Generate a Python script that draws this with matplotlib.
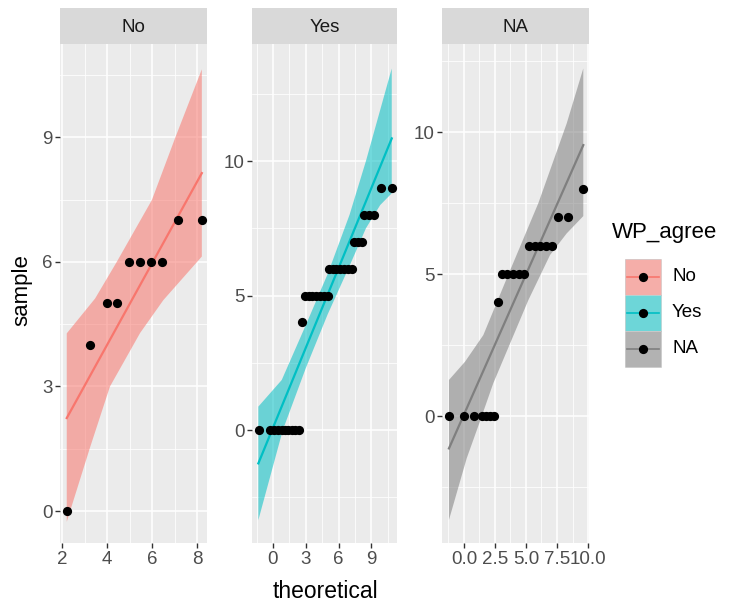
import matplotlib
matplotlib.use("Agg")
import matplotlib.pyplot as plt
from matplotlib.patches import Rectangle
import numpy as np

plt.rcParams['font.family'] = ['Liberation Sans', 'DejaVu Sans']

groups = ['No', 'Yes', 'NA']
colors = ['#F8766D', '#00BFC4', '#7F7F7F']

# points (theoretical, sample)
no_x = [2.21, 3.24, 3.99, 4.46, 4.98, 5.47, 5.96, 6.43, 7.14, 8.21]
no_y = [0, 4, 5, 5, 6, 6, 6, 6, 7, 7]
yes_x = [-1.28, -0.27, 0.1, 0.45, 0.8, 1.1, 1.4, 1.7, 2.05, 2.4,
         2.62,
         2.9, 3.25, 3.6, 3.95, 4.3, 4.65, 5.0,
         5.1, 5.45, 5.8, 6.15, 6.5, 6.85, 7.23,
         7.4, 7.75, 8.1,
         8.33, 8.75, 9.21,
         9.88, 10.86]
yes_y = [0, 0, 0, 0, 0, 0, 0, 0, 0, 0,
         4,
         5, 5, 5, 5, 5, 5, 5,
         6, 6, 6, 6, 6, 6, 6,
         7, 7, 7,
         8, 8, 8,
         9, 9]
na_x = [-1.21, 0.03, 0.83, 1.42, 1.75, 2.1, 2.44,
        2.77,
        3.04, 3.5, 3.95, 4.4, 4.86,
        5.24, 5.7, 6.15, 6.6, 7.07,
        7.6, 8.36,
        9.62]
na_y = [0, 0, 0, 0, 0, 0, 0,
        4,
        5, 5, 5, 5, 5,
        6, 6, 6, 6, 6,
        7, 7,
        8]

# reference lines
no_line_x, no_line_y = [2.21, 8.21], [2.24, 8.14]
yes_line_x, yes_line_y = [-1.34, 10.86], [-1.24, 10.84]
na_line_x, na_line_y = [-1.21, 9.62], [-1.14, 9.54]

# confidence bands (upper edge, lower edge)
no_up_x = [2.21, 3.47, 4.43, 5.99, 7.02, 8.21]
no_up_y = [4.28, 5.12, 6.0, 7.49, 8.98, 10.64]
no_lo_x = [2.21, 3.25, 4.13, 5.47, 6.5, 8.21]
no_lo_y = [-0.26, 1.54, 3.0, 4.29, 5.08, 6.13]

yes_up_x = [-1.34, 0.8, 3.0, 5.0, 7.0, 8.5, 10.86]
yes_up_y = [0.87, 1.86, 3.9, 5.8, 8.0, 10.0, 13.44]
yes_lo_x = [-1.34, 0.9, 3.0, 5.0, 7.0, 8.5, 9.8, 10.86]
yes_lo_y = [-3.35, 0.0, 2.3, 4.3, 6.1, 7.5, 8.36, 8.8]

na_up_x = [-1.21, 0.08, 1.56, 3.5, 6.0, 8.28, 9.62]
na_up_y = [1.27, 1.91, 2.85, 4.9, 7.5, 10.3, 12.24]
na_lo_x = [-1.21, 0.22, 1.23, 2.36, 5.19, 6.94, 8.28, 9.62]
na_lo_y = [-3.66, -1.49, -0.26, 1.15, 4.08, 5.67, 6.43, 7.04]

# axis setup per panel
xlims = [(1.91, 8.44), (-1.92, 11.34), (-1.77, 10.08)]
ylims = [(-0.77, 11.25), (-4.2, 14.35), (-4.47, 13.1)]
xmajor = [[2, 4, 6, 8], [0, 3, 6, 9], [0, 2.5, 5, 7.5, 10]]
xlabels = [['2', '4', '6', '8'], ['0', '3', '6', '9'], ['0.0', '2.5', '5.0', '7.5', '10.0']]
xminor = [[3, 5, 7], [-1.5, 1.5, 4.5, 7.5, 10.5], [-1.25, 1.25, 3.75, 6.25, 8.75]]
ymajor = [[0, 3, 6, 9], [0, 5, 10], [0, 5, 10]]
yminor = [[1.5, 4.5, 7.5, 10.5], [-2.5, 2.5, 7.5, 12.5], [-2.5, 2.5, 7.5, 12.5]]

pts = [(no_x, no_y), (yes_x, yes_y), (na_x, na_y)]
lines = [(no_line_x, no_line_y), (yes_line_x, yes_line_y), (na_line_x, na_line_y)]
bands = [(no_up_x, no_up_y, no_lo_x, no_lo_y),
         (yes_up_x, yes_up_y, yes_lo_x, yes_lo_y),
         (na_up_x, na_up_y, na_lo_x, na_lo_y)]

W, H = 738, 607
fig = plt.figure(figsize=(W / 100, H / 100), dpi=100)


def px_axes(l, r, t, b):
    return fig.add_axes([l / W, 1 - b / H, (r - l) / W, (b - t) / H])


panel_lr = [(60, 207), (252, 397), (442, 589)]
top, bottom, strip_top = 44, 543, 8
alpha = 0.55
dot = 44

for i, g in enumerate(groups):
    l, r = panel_lr[i]
    ax = px_axes(l, r, top, bottom)
    ax.set_facecolor('#EBEBEB')
    for s in ax.spines.values():
        s.set_visible(False)
    ax.set_xlim(*xlims[i])
    ax.set_ylim(*ylims[i])
    ax.set_xticks(xmajor[i])
    ax.set_xticklabels(xlabels[i])
    ax.set_xticks(xminor[i], minor=True)
    ax.set_yticks(ymajor[i])
    ax.set_yticks(yminor[i], minor=True)
    ax.grid(which='major', color='white', linewidth=1.1)
    ax.grid(which='minor', color='white', linewidth=0.55)
    ax.set_axisbelow(True)
    ax.tick_params(which='major', length=3.5, width=1.0, color='#333333',
                   labelsize=13.5, labelcolor='#4D4D4D', pad=2)
    ax.tick_params(which='minor', length=0)

    ux, uy, lx, ly = bands[i]
    ax.fill(np.r_[ux, lx[::-1]], np.r_[uy, ly[::-1]], color=colors[i],
            alpha=alpha, linewidth=0)
    ax.plot(lines[i][0], lines[i][1], color=colors[i], linewidth=1.6)
    ax.scatter(pts[i][0], pts[i][1], s=dot, color='black', zorder=5,
               linewidths=0)

    sx = px_axes(l, r, strip_top, top)
    sx.set_facecolor('#D9D9D9')
    for s in sx.spines.values():
        s.set_visible(False)
    sx.set_xticks([])
    sx.set_yticks([])
    sx.text(0.5, 0.45, g, ha='center', va='center', fontsize=13.5,
            color='#1A1A1A', transform=sx.transAxes)

fig.text(22 / W, 1 - 290 / H, 'sample', rotation=90, ha='center',
         va='center', fontsize=16, color='black')
fig.text(325 / W, 1 - 592 / H, 'theoretical', ha='center', va='center',
         fontsize=16.5, color='black')

# legend
lg = px_axes(600, 738, 210, 380)
lg.set_xlim(600, 738)
lg.set_ylim(380, 210)
lg.axis('off')
lg.text(612, 233, 'WP_agree', ha='left', va='center', fontsize=16,
        color='black')
key_top = [259, 295, 331]
for i, g in enumerate(groups):
    y0 = key_top[i]
    lg.add_patch(Rectangle((625, y0), 36, 36, facecolor='#F2F2F2',
                           edgecolor='none'))
    lg.add_patch(Rectangle((625, y0), 36, 36, facecolor=colors[i],
                           alpha=alpha, edgecolor='#BDBDBD', linewidth=0.6))
    lg.plot([627, 659], [y0 + 18, y0 + 18], color=colors[i], linewidth=1.2)
    lg.scatter([643], [y0 + 18], s=dot, color='black', zorder=5, linewidths=0)
    lg.text(672, y0 + 18, g, ha='left', va='center', fontsize=13.5,
            color='black')

fig.savefig('out.png', dpi=100, facecolor='white')
